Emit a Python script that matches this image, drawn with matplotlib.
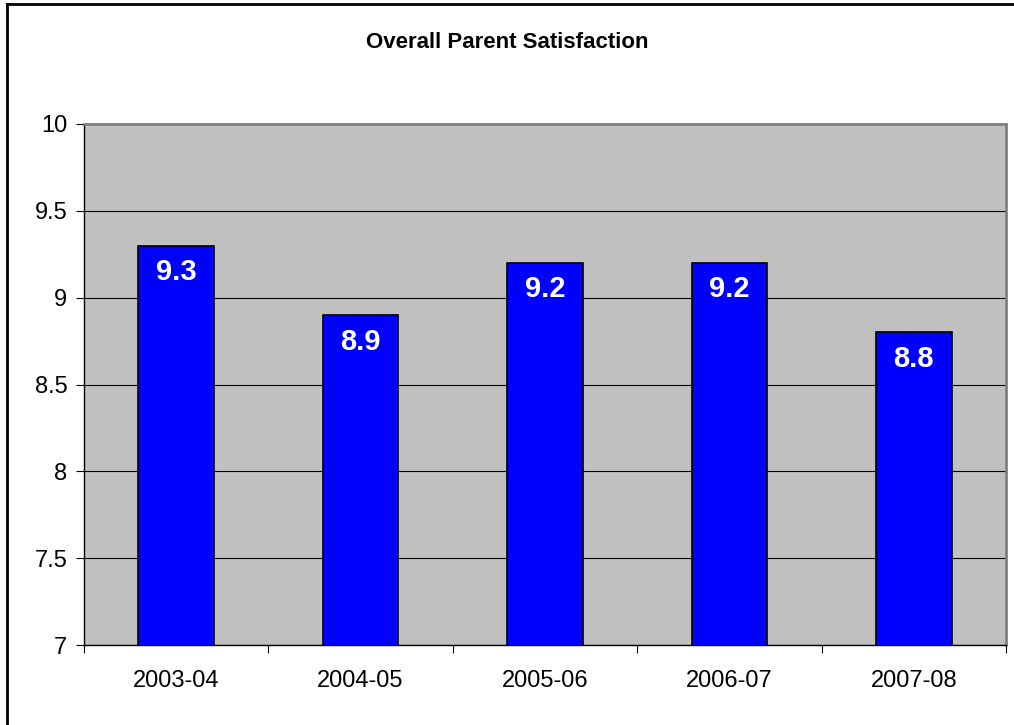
import matplotlib
matplotlib.use("Agg")
import matplotlib.pyplot as plt
from matplotlib.lines import Line2D

plt.rcParams['font.family'] = ['Liberation Sans', 'DejaVu Sans']

# data
years = ['2003-04', '2004-05', '2005-06', '2006-07', '2007-08']
scores = [9.3, 8.9, 9.2, 9.2, 8.8]
y_ticks = [7, 7.5, 8, 8.5, 9, 9.5, 10]
y_tick_labels = ['7', '7.5', '8', '8.5', '9', '9.5', '10']

fig = plt.figure(figsize=(10.14, 7.25), dpi=100)
ax = fig.add_axes([84 / 1014, 1 - 645 / 725, 922 / 1014, 521 / 725])
ax.set_facecolor('#C0C0C0')

x = list(range(len(years)))
bars = ax.bar(x, scores, width=0.41, color='#0000FF', edgecolor='black',
              linewidth=1.2, zorder=3)

# value labels inside the bars
for xi, v in zip(x, scores):
    ax.annotate('{:.1f}'.format(v), (xi, v), xytext=(0, -9), textcoords='offset points',
                ha='center', va='top', color='white', fontsize=21, fontweight='bold',
                zorder=4)

ax.set_xlim(-0.5, len(years) - 0.5)
ax.set_ylim(7, 10)
ax.set_yticks(y_ticks)
ax.set_yticklabels(y_tick_labels, fontsize=17)
ax.yaxis.grid(True, color='black', linewidth=0.8, zorder=1)

# category labels centred, tick marks between categories
ax.set_xticks(x)
ax.set_xticklabels(years, fontsize=17)
ax.tick_params(axis='x', length=0, pad=18)
ax.set_xticks([i - 0.5 for i in range(len(years) + 1)], minor=True)
ax.tick_params(axis='x', which='minor', length=6, direction='out', width=0.8)
ax.tick_params(axis='y', length=6, direction='out', width=0.8, pad=6)

for s in ['top', 'right']:
    ax.spines[s].set_color('#808080')
    ax.spines[s].set_linewidth(2)
for s in ['left', 'bottom']:
    ax.spines[s].set_color('black')
    ax.spines[s].set_linewidth(1)

fig.text(507 / 1014, 1 - 42 / 725, 'Overall Parent Satisfaction', ha='center', va='center',
         fontsize=16, fontweight='bold')

# outer chart border (left and top visible)
fig.add_artist(Line2D([7 / 1014, 7 / 1014], [0, 1 - 4 / 725], color='black', linewidth=2,
                      transform=fig.transFigure))
fig.add_artist(Line2D([7 / 1014, 1], [1 - 4 / 725, 1 - 4 / 725], color='black', linewidth=2,
                      transform=fig.transFigure))

fig.savefig('out.png', dpi=100)
